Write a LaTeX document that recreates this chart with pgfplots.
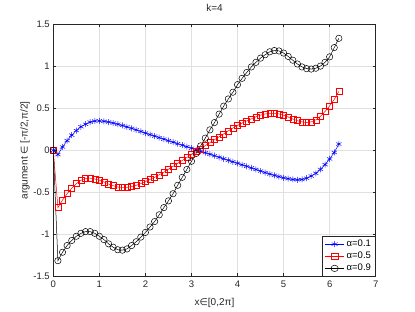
\documentclass[border=0pt]{standalone}
\usepackage{pgfplots}
\pgfplotsset{compat=1.18}
\usepackage{pgfplotstable}
\usepackage{fontspec}
\setmainfont{Liberation Sans}
\newfontfamily\dejavu{DejaVu Sans}
\definecolor{axgray}{rgb}{0.15,0.15,0.15}
\pgfplotstableread{
x b r k
0.0 0 0 0
0.1 -0.05 -0.68 -1.31
0.2 0.04 -0.59 -1.21
0.3 0.115 -0.515 -1.13
0.4 0.18 -0.45 -1.07
0.5 0.235 -0.395 -1.02
0.6 0.28 -0.355 -0.985
0.7 0.31 -0.335 -0.965
0.8 0.335 -0.33 -0.965
0.9 0.348 -0.34 -0.985
1.0 0.35 -0.355 -1.02
1.1 0.345 -0.375 -1.06
1.2 0.336 -0.40 -1.11
1.3 0.324 -0.42 -1.15
1.4 0.31 -0.435 -1.18
1.5 0.295 -0.44 -1.185
1.6 0.278 -0.44 -1.17
1.7 0.261 -0.43 -1.13
1.8 0.243 -0.415 -1.085
1.9 0.224 -0.395 -1.03
2.0 0.205 -0.37 -0.975
2.1 0.187 -0.345 -0.91
2.2 0.169 -0.32 -0.845
2.3 0.151 -0.29 -0.765
2.4 0.133 -0.26 -0.68
2.5 0.115 -0.225 -0.60
2.6 0.097 -0.19 -0.515
2.7 0.079 -0.155 -0.415
2.8 0.061 -0.12 -0.32
2.9 0.043 -0.085 -0.227
3.0 0.025 -0.05 -0.13
3.1 0.007 -0.015 -0.037
3.2 -0.010 0.018 0.053
3.3 -0.028 0.056 0.145
3.4 -0.046 0.091 0.243
3.5 -0.064 0.126 0.33
3.6 -0.082 0.161 0.43
3.7 -0.100 0.196 0.525
3.8 -0.118 0.231 0.61
3.9 -0.136 0.265 0.69
4.0 -0.154 0.295 0.78
4.1 -0.172 0.324 0.855
4.2 -0.19 0.349 0.925
4.3 -0.208 0.374 0.99
4.4 -0.227 0.398 1.045
4.5 -0.246 0.418 1.095
4.6 -0.264 0.432 1.135
4.7 -0.281 0.44 1.17
4.8 -0.297 0.439 1.185
4.9 -0.312 0.432 1.18
5.0 -0.326 0.417 1.155
5.1 -0.337 0.396 1.115
5.2 -0.346 0.372 1.07
5.3 -0.35 0.352 1.025
5.4 -0.346 0.338 0.99
5.5 -0.331 0.33 0.97
5.6 -0.305 0.338 0.965
5.7 -0.273 0.362 0.975
5.8 -0.226 0.404 1.0
5.9 -0.169 0.461 1.045
6.0 -0.102 0.528 1.11
6.1 -0.025 0.605 1.22
6.2 0.075 0.70 1.33
}\datatable
\begin{document}
\begin{tikzpicture}
\useasboundingbox (-53.3pt,-35.3pt) rectangle (361.7pt,276.7pt);
\begin{axis}[
  at={(0pt,0pt)}, anchor=south west,
  scale only axis, width=322.4pt, height=252.7pt,
  xmin=0, xmax=7, ymin=-1.5, ymax=1.5,
  xtick={0,1,...,7}, ytick={-1.5,-1,...,1.5},
  /pgf/number format/assume math mode=true,
  tick label style={font=\fontsize{9.5}{11}\selectfont, text=axgray},
  label style={font=\fontsize{10}{12}\selectfont, text=axgray},
  title style={font=\fontsize{10}{12}\selectfont, text=axgray, at={(axis description cs:0.5,1)}, anchor=south, yshift=3pt},
  title={k=4},
  xlabel={x{\dejavu\fontsize{9.5}{11}\selectfont ∈}[0,2π]},
  ylabel={argument {\dejavu\fontsize{9.5}{11}\selectfont ∈} [-π/2,π/2]},
  xlabel style={at={(axis description cs:0.5,-0.105)}, anchor=center},
  ylabel style={at={(axis description cs:-0.088,0.5)}, anchor=center},
  xticklabel style={yshift=-1pt},
  axis line style={axgray, line width=0.5pt},
  tick style={axgray, line width=0.5pt},
  major tick length=3.2pt,
  grid=major,
  major grid style={black!12, line width=0.5pt},
  legend style={at={(1,0)}, anchor=south east, draw=axgray, line width=0.5pt, fill=white,
    font=\fontsize{9.5}{11}\selectfont, inner xsep=2.5pt, inner ysep=2pt, row sep=0pt,
    cells={anchor=west}},
  legend image post style={xscale=1.15},
  legend cell align=left,
]
\addplot[blue, line width=0.5pt, mark=asterisk, mark size=3pt, mark options={line width=0.5pt}] table[x=x,y=b] {\datatable};
\addlegendentry{α=0.1}
\addplot[red, line width=0.5pt, mark=square, mark size=3pt, mark options={line width=0.5pt}] table[x=x,y=r] {\datatable};
\addlegendentry{α=0.5}
\addplot[black, line width=0.5pt, mark=o, mark size=3.2pt, mark options={line width=0.5pt}] table[x=x,y=k] {\datatable};
\addlegendentry{α=0.9}
\end{axis}
\end{tikzpicture}
\end{document}
